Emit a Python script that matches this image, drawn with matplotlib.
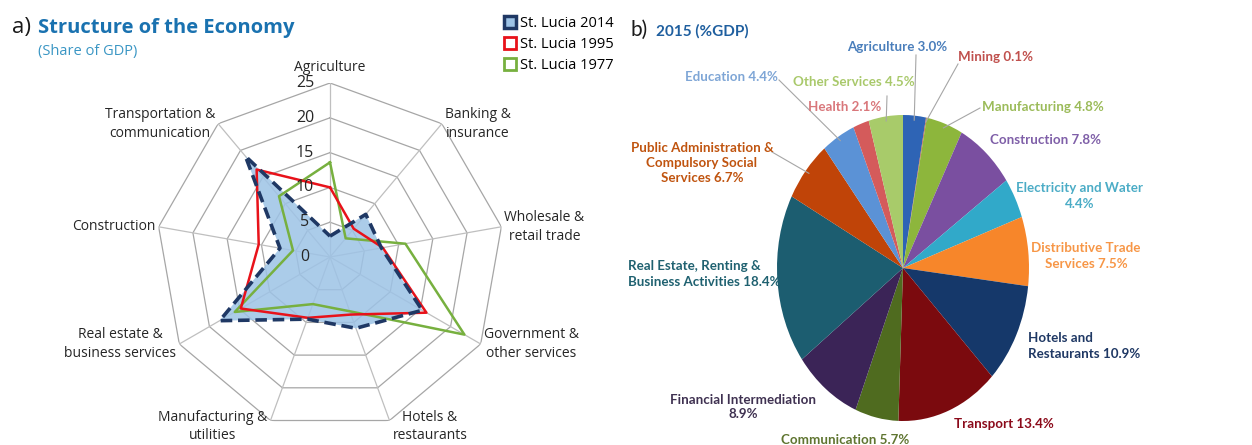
import numpy as np
import matplotlib
matplotlib.use('Agg')
import matplotlib.pyplot as plt
from matplotlib.lines import Line2D
from matplotlib.transforms import offset_copy

# ---- radar data (share of GDP, %)
sectors = ['Agriculture', 'Banking &\ninsurance', 'Wholesale &\nretail trade',
           'Government &\nother services', 'Hotels &\nrestaurants',
           'Manufacturing &\nutilities', 'Real estate &\nbusiness services',
           'Construction', 'Transportation &\ncommunication']
lucia_2014 = [3.0, 8.0, 7.5, 15.3, 10.9, 9.5, 18.3, 7.3, 18.9]
lucia_1995 = [10.0, 5.3, 7.7, 16.0, 8.8, 9.3, 14.8, 10.4, 16.4]
lucia_1977 = [13.6, 3.5, 11.0, 22.3, 8.3, 7.2, 15.8, 5.4, 11.4]
rings = [0, 5, 10, 15, 20, 25]

# ---- pie data (2015, %GDP)
pie_labels = ['Agriculture {:.1f}%', 'Mining {:.1f}%', 'Manufacturing {:.1f}%',
              'Construction {:.1f}%', 'Electricity and Water\n{:.1f}%',
              'Distributive Trade\nServices {:.1f}%', 'Hotels and\nRestaurants {:.1f}%',
              'Transport {:.1f}%', 'Communication {:.1f}%',
              'Financial Intermediation\n{:.1f}%',
              'Real Estate, Renting &\nBusiness Activities {:.1f}%',
              'Public Administration &\nCompulsory Social\nServices {:.1f}%',
              'Education {:.1f}%', 'Health {:.1f}%', 'Other Services {:.1f}%']
pie_values = [3.0, 0.1, 4.8, 7.8, 4.4, 7.5, 10.9, 13.4, 5.7, 8.9, 18.4, 6.7, 4.4, 2.1, 4.5]
pie_colors = ['#2E64B5', '#C0504D', '#8DB63C', '#7A4FA0', '#31A9C9', '#F7862A',
              '#15386A', '#7B0A0E', '#4F6B1F', '#3B2457', '#1C5D70', '#C04408',
              '#5B92D6', '#D45B5B', '#A8CB6A']
text_colors = ['#4A7EBB', '#C0504D', '#9BBB59', '#7F5FA8', '#4BACC6', '#F79646',
               '#1F3864', '#8B0A1A', '#5F7530', '#3F3151', '#1F6170', '#C0540F',
               '#7FA6D6', '#D9777B', '#A9C96B']

fig = plt.figure(figsize=(12.52, 4.45), dpi=100)
W, H = 1252, 445

# ---------------- a) radar
cx, cy, rad = 330, 257, 174
ax = fig.add_axes([(cx - rad) / W, (H - cy - rad) / H, 2 * rad / W, 2 * rad / H],
                  projection='polar')
ax.set_theta_offset(np.pi / 2)
ax.set_theta_direction(-1)
ax.set_ylim(0, 25)
ax.set_xticks([])
ax.set_yticks([])
ax.grid(False)
ax.spines['polar'].set_visible(False)
ax.patch.set_alpha(0)

n = len(sectors)
ang = np.linspace(0, 2 * np.pi, n, endpoint=False)
ang_c = np.append(ang, ang[0])

for r in rings[1:]:
    ax.plot(ang_c, [r] * (n + 1), color='#A6A6A6', lw=0.9, zorder=1)
for a in ang:
    ax.plot([a, a], [0, 25], color='#BFBFBF', lw=0.9, zorder=1)

def closed(v):
    return np.append(v, v[0])

ax.fill(ang_c, closed(lucia_2014), color='#9DC3E6', alpha=0.85, zorder=2, lw=0)
ax.plot(ang_c, closed(lucia_2014), color='#1F3864', lw=2.6, ls=(0, (3.2, 1.6)), zorder=5)
ax.plot(ang_c, closed(lucia_1995), color='#E8121A', lw=1.8, zorder=4)
ax.plot(ang_c, closed(lucia_1977), color='#77B03F', lw=1.8, zorder=3)

# ring value labels
tr = offset_copy(ax.transData, fig=fig, x=-25 * 72 / 100, y=0, units='points')
for r in rings:
    ax.text(0, r, str(r), transform=tr, ha='center', va='center',
            fontsize=11.5, family='Open Sans', color='#262626', zorder=6)

# category labels
for a, lab in zip(ang, sectors):
    sa = np.pi / 2 - a
    c, s = np.cos(sa), np.sin(sa)
    if abs(c) < 0.2:
        ha, va, dx, dy = 'center', 'bottom', 0, 8
    else:
        ha = 'left' if c > 0 else 'right'
        va = 'center'
        dx = 3 if c > 0 else -3
        dy = -6 if s < -0.8 else 0
    t = offset_copy(ax.transData, fig=fig, x=dx * 0.72, y=dy * 0.72, units='points')
    ax.text(a, 25, lab, transform=t, ha=ha, va=va, fontsize=10,
            family='Open Sans', color='#262626', linespacing=1.35, multialignment='center')

fig.text(12 / W, 1 - 28 / H, 'a)', fontsize=16, family='Open Sans', va='center', color='#1a1a1a')
fig.text(38 / W, 1 - 28 / H, 'Structure of the Economy', fontsize=14.5, family='Open Sans',
         weight='bold', va='center', color='#1A72B0')
fig.text(38 / W, 1 - 52 / H, '(Share of GDP)', fontsize=10.5, family='Open Sans',
         va='center', color='#3A96C4')

handles = [Line2D([], [], ls='none', marker='s', ms=9, mfc='#9DC3E6', mec='#1F3864', mew=2.5),
           Line2D([], [], ls='none', marker='s', ms=9, mfc='white', mec='#E8121A', mew=2),
           Line2D([], [], ls='none', marker='s', ms=9, mfc='white', mec='#77B03F', mew=2)]
fig.legend(handles, ['St. Lucia 2014', 'St. Lucia 1995', 'St. Lucia 1977'],
           loc='upper left', bbox_to_anchor=(497 / W, 1 - 9 / H), frameon=False,
           handlelength=0.8, handletextpad=0.3, labelspacing=0.4,
           prop={'family': 'Open Sans', 'size': 10.5}, borderpad=0)

# ---------------- b) pie
px, py, rx, ry = 903, 268, 126, 153
ax2 = fig.add_axes([(px - rx) / W, (H - py - ry) / H, 2 * rx / W, 2 * ry / H])
wedges, _ = ax2.pie(pie_values, colors=pie_colors, startangle=90, counterclock=False,
                    wedgeprops=dict(linewidth=0))
ax2.set_aspect('auto')
ax2.set_xlim(-1, 1)
ax2.set_ylim(-1, 1)
ax2.axis('off')

def d(x, y):
    return (x - px) / rx, (py - y) / ry

label_pos = [(897, 47, 'center'), (995, 57, 'center'), (1043, 107, 'center'),
             (1045, 140, 'center'), (1080, 196, 'center'), (1086, 256, 'center'),
             (1028, 346, 'left'), (1004, 424, 'center'), (845, 440, 'center'),
             (743, 407, 'center'), (628, 274, 'left'), (702, 163, 'center'),
             (731, 77, 'center'), (845, 107, 'center'), (854, 82, 'center')]
for i, (fmt, v) in enumerate(zip(pie_labels, pie_values)):
    x, y, ha = label_pos[i]
    ax2.text(*d(x, y), fmt.format(v), ha=ha, va='center', fontsize=9.6, family='Lato',
             weight='bold', color=text_colors[i], linespacing=1.3,
             multialignment='center' if ha == 'center' else 'left')

# leader lines: (slice index, label-side end in px)
leaders = [(0, 916, 55), (1, 958, 64), (2, 980, 108), (12, 779, 80), (11, 772, 152), (14, 887, 96)]
for i, x, y in leaders:
    w = wedges[i]
    m = np.radians((w.theta1 + w.theta2) / 2)
    x0, y0 = d(x, y)
    ax2.plot([x0, 0.97 * np.cos(m)], [y0, 0.97 * np.sin(m)], color='#A6A6A6',
             lw=0.8, clip_on=False)

fig.text(630 / W, 1 - 30 / H, 'b)', fontsize=15, family='Lato', va='center', color='#1a1a1a')
fig.text(656 / W, 1 - 31 / H, '2015 (%GDP)', fontsize=11, family='Lato', weight='bold',
         va='center', color='#1F5F9F')

fig.savefig('out.png', dpi=100)
